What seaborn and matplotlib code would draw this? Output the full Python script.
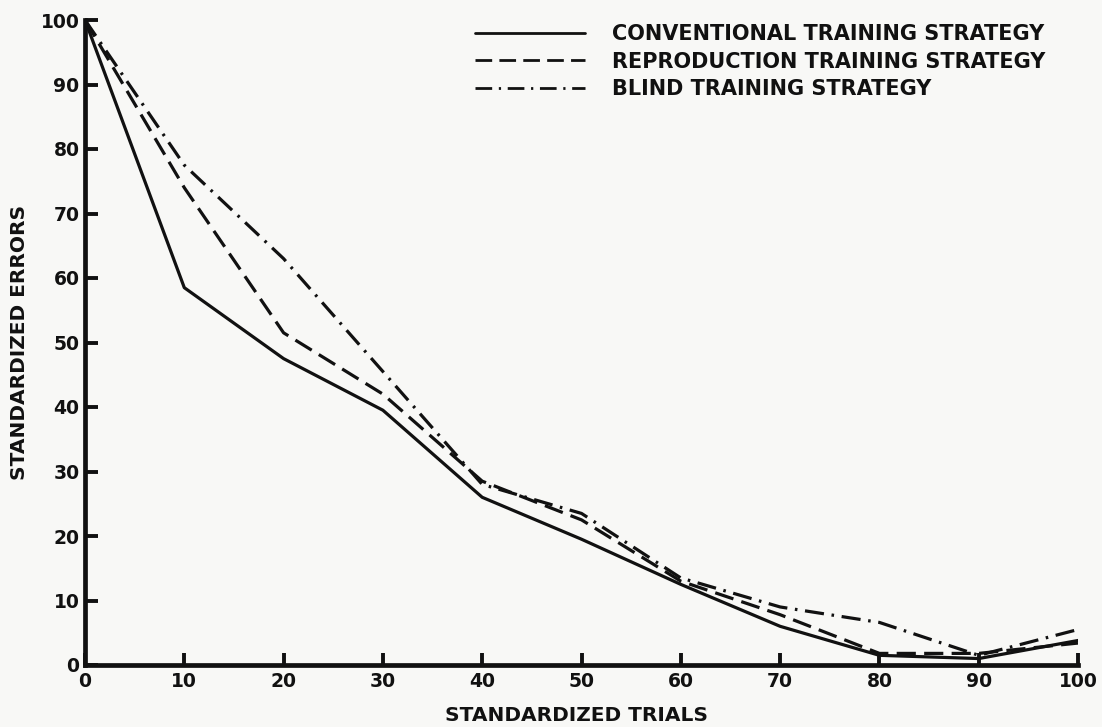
import matplotlib
matplotlib.use("Agg")
import matplotlib.pyplot as plt
import seaborn as sns
import pandas as pd

# ---- data ----
trials = [0, 10, 20, 30, 40, 50, 60, 70, 80, 90, 100]
conventional = [100, 58.5, 47.5, 39.5, 26.0, 19.5, 12.5, 6.0, 1.5, 1.0, 3.8]
reproduction = [100, 74.0, 51.5, 42.0, 28.5, 22.5, 13.0, 7.8, 1.8, 1.8, 3.4]
blind = [100, 77.5, 63.0, 45.5, 28.0, 23.5, 13.5, 9.0, 6.6, 1.5, 5.5]
series_names = ["CONVENTIONAL TRAINING STRATEGY",
                "REPRODUCTION TRAINING STRATEGY",
                "BLIND TRAINING STRATEGY"]
x_ticks = [0, 10, 20, 30, 40, 50, 60, 70, 80, 90, 100]
y_ticks = [0, 10, 20, 30, 40, 50, 60, 70, 80, 90, 100]

rows = []
for name, vals in zip(series_names, [conventional, reproduction, blind]):
    for t, v in zip(trials, vals):
        rows.append({"trials": t, "errors": v, "strategy": name})
df = pd.DataFrame(rows)

sns.set_theme(style="white")
plt.rcParams["font.family"] = ["DejaVu Sans"]
plt.rcParams["font.weight"] = "bold"

INK = "#111111"
BG = "#f8f8f6"

fig = plt.figure(figsize=(11.02, 7.27), dpi=100, facecolor=BG)
W, H = 1102, 727
left_px, right_px, top_px, bottom_px = 85, 1078, 20, 665
ax = fig.add_axes([left_px / W, 1 - bottom_px / H,
                   (right_px - left_px) / W, (bottom_px - top_px) / H])
ax.set_facecolor(BG)

dash_map = {
    series_names[0]: "",
    series_names[1]: (6.0, 2.6),
    series_names[2]: (6.0, 2.4, 0.8, 2.4),
}
sns.lineplot(data=df, x="trials", y="errors", style="strategy",
             style_order=series_names, dashes=dash_map, color=INK,
             linewidth=2.3, ax=ax, legend=True)

ax.set_xlim(0, 100)
ax.set_ylim(0, 100)
ax.set_xticks(x_ticks)
ax.set_yticks(y_ticks)
ax.set_xticklabels([str(v) for v in x_ticks])
ax.set_yticklabels([str(v) for v in y_ticks])

for s in ["top", "right"]:
    ax.spines[s].set_visible(False)
for s in ["left", "bottom"]:
    ax.spines[s].set_linewidth(3.4)
    ax.spines[s].set_color(INK)

ax.tick_params(axis="both", which="major", bottom=True, left=True,
               top=False, right=False, direction="in", length=9, width=2.8,
               color=INK, labelcolor=INK, labelsize=13.5)
ax.tick_params(axis="x", pad=5)
ax.tick_params(axis="y", pad=4)
for lbl in ax.get_xticklabels() + ax.get_yticklabels():
    lbl.set_fontweight("bold")

ax.set_xlabel("STANDARDIZED TRIALS", fontsize=14.5, fontweight="bold", color=INK)
ax.set_ylabel("STANDARDIZED ERRORS", fontsize=14.5, fontweight="bold", color=INK)
ax.xaxis.set_label_coords(0.495, -(706 - bottom_px) / (bottom_px - top_px))
ax.yaxis.set_label_coords(-(85 - 29) / (right_px - left_px), 0.5)

handles, labels = ax.get_legend_handles_labels()
leg = ax.legend(handles, labels, loc="upper left",
                bbox_to_anchor=(475 / W, 1 - 24 / H), bbox_transform=fig.transFigure,
                frameon=False, fontsize=15, handlelength=5.3, handletextpad=1.3,
                labelspacing=0.36, borderpad=0, borderaxespad=0)
for t in leg.get_texts():
    t.set_fontweight("bold")
    t.set_color(INK)
for l in leg.get_lines():
    l.set_linewidth(2.0)

fig.savefig("out.png", dpi=100, facecolor=BG)
